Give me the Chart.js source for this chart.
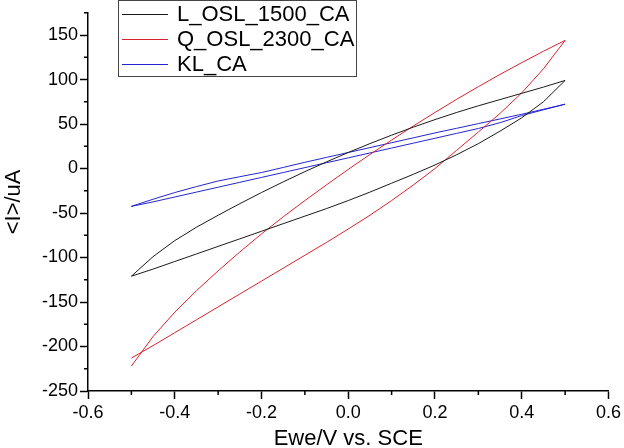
<!DOCTYPE html>
<html>
<head>
<meta charset="utf-8">
<script src="https://cdn.jsdelivr.net/npm/chart.js@4.4.1/dist/chart.umd.min.js"></script>
<style>
  html, body { margin: 0; padding: 0; background: #fff; }
  #wrap { width: 624px; height: 448px; }
</style>
</head>
<body>
<div id="wrap"><canvas id="cv"></canvas></div>
<script>
// potential sweep, V vs SCE (forward scan -0.5 -> 0.5)
const sweep = [-0.5, -0.45, -0.4, -0.35, -0.3, -0.25, -0.2, -0.15, -0.1, -0.05, 0,
  0.05, 0.1, 0.15, 0.2, 0.25, 0.3, 0.35, 0.4, 0.45, 0.5];
const sweepBack = sweep.slice().reverse();

// current, uA
const lForward = [-121, -99, -81, -66, -52.5, -39.5, -27, -15, -3.5, 7.5, 18,
  28, 37.5, 46.5, 55, 63, 70.5, 77.5, 84.5, 91.5, 99];
const lReverse = [99, 75, 57, 42, 28, 15.5, 4, -6.5, -16.5, -26.5, -36,
  -45, -53.5, -62, -70.5, -79, -87.5, -96, -104.5, -113, -121];

const qForward = [-222, -188.8, -161.5, -137.3, -115, -93.8, -73.5, -54.3, -36, -18.3, -1,
  15.8, 32, 47.8, 63, 77.8, 92, 105.8, 119, 131.8, 144];
const qReverse = [144, 112, 85, 62, 41, 20.5, 0, -18.5, -36, -52.5, -68,
  -83, -97.5, -112, -126.5, -141, -155.5, -170, -184.5, -199, -213];

const kForward = [-42.5, -34.5, -27, -20.3, -14, -9.2, -4.5, 1.2, 7, 12.5, 18,
  23.5, 29, 34.5, 40, 45.2, 50.5, 55.7, 61, 66.6, 72.3];
const kReverse = [72.3, 66, 59.5, 51.5, 45, 39.5, 34, 28.5, 23, 17.5, 12,
  6.5, 1, -4.5, -10, -15.5, -21, -26.5, -32, -37.5, -42.5];

const seriesNames = ['L_OSL_1500_CA', 'Q_OSL_2300_CA', 'KL_CA'];
const seriesColors = ['#1a1a1a', '#d8232c', '#2424d4'];

const yMajor = [-250, -200, -150, -100, -50, 0, 50, 100, 150];
const xMajor = [-0.6, -0.4, -0.2, 0, 0.2, 0.4, 0.6];

function loop(fwd, rev) {
  const pts = sweep.map((v, i) => ({ x: v, y: fwd[i] }));
  return pts.concat(sweepBack.map((v, i) => ({ x: v, y: rev[i] })));
}

const isMajorX = (v) => xMajor.some((m) => Math.abs(m - v) < 1e-6);
const isMajorY = (v) => yMajor.some((m) => Math.abs(m - v) < 1e-6);

const FONT = "'Liberation Sans', Arial, sans-serif";

// short minor tick marks, drawn along the axes
const minorTicks = {
  id: 'minorTicks',
  afterDraw(chart) {
    const ctx = chart.ctx;
    const xs = chart.scales.x;
    const ys = chart.scales.y;
    ctx.save();
    ctx.strokeStyle = '#000';
    ctx.lineWidth = 1.5;
    ctx.beginPath();
    xs.ticks.forEach((t) => {
      if (isMajorX(t.value)) return;
      const px = xs.getPixelForValue(t.value);
      ctx.moveTo(px, xs.top);
      ctx.lineTo(px, xs.top + 4);
    });
    ys.ticks.forEach((t) => {
      if (isMajorY(t.value)) return;
      const py = ys.getPixelForValue(t.value);
      ctx.moveTo(ys.right, py);
      ctx.lineTo(ys.right - 4, py);
    });
    ctx.stroke();
    ctx.restore();
  },
};

// boxed legend at the top
const boxLegend = {
  id: 'boxLegend',
  afterDraw(chart) {
    const ctx = chart.ctx;
    ctx.save();
    ctx.strokeStyle = '#444';
    ctx.lineWidth = 1;
    ctx.strokeRect(118.5, 0.5, 238, 76);
    ctx.font = '22px ' + FONT;
    ctx.textBaseline = 'middle';
    chart.data.datasets.forEach((ds, i) => {
      const yy = 14 + i * 25;
      ctx.strokeStyle = ds.borderColor;
      ctx.beginPath();
      ctx.moveTo(122, yy + 0.5);
      ctx.lineTo(168, yy + 0.5);
      ctx.stroke();
      ctx.fillStyle = '#000';
      ctx.fillText(ds.label, 177, yy + 1);
    });
    ctx.restore();
  },
};

const loops = [loop(lForward, lReverse), loop(qForward, qReverse), loop(kForward, kReverse)];

new Chart(document.getElementById('cv'), {
  type: 'scatter',
  data: {
    datasets: loops.map((pts, i) => ({
      label: seriesNames[i],
      data: pts,
      showLine: true,
      borderColor: seriesColors[i],
      backgroundColor: seriesColors[i],
      borderWidth: 1,
      pointRadius: 0,
      tension: 0,
    })),
  },
  options: {
    responsive: true,
    maintainAspectRatio: false,
    animation: false,
    layout: { padding: { left: 0, top: 10, right: 12, bottom: 0 } },
    plugins: {
      legend: { display: false },
      tooltip: { enabled: false },
    },
    scales: {
      x: {
        type: 'linear',
        min: -0.6,
        max: 0.6,
        afterFit: (s) => { s.height = 57; },
        border: { display: true, color: '#000', width: 1.5 },
        grid: {
          drawOnChartArea: false,
          drawTicks: true,
          tickLength: 8,
          tickWidth: 1.5,
          tickColor: (c) => (c.tick && isMajorX(c.tick.value) ? '#000' : 'rgba(0,0,0,0)'),
        },
        ticks: {
          stepSize: 0.1,
          autoSkip: false,
          maxRotation: 0,
          padding: 3,
          color: '#000',
          font: { family: FONT, size: 18 },
          callback: (v) => {
            if (!isMajorX(v)) return '';
            const r = Math.round(v * 10) / 10;
            return r === 0 ? '0.0' : r.toFixed(1);
          },
        },
        title: {
          display: true,
          text: 'Ewe/V vs. SCE',
          color: '#000',
          padding: 0,
          font: { family: FONT, size: 22, lineHeight: 0.8 },
        },
      },
      y: {
        type: 'linear',
        min: -250,
        max: 175,
        afterFit: (s) => { s.width = 88; },
        border: { display: true, color: '#000', width: 1.5 },
        grid: {
          drawOnChartArea: false,
          drawTicks: true,
          tickLength: 8,
          tickWidth: 1.5,
          tickColor: (c) => (c.tick && isMajorY(c.tick.value) ? '#000' : 'rgba(0,0,0,0)'),
        },
        ticks: {
          stepSize: 25,
          autoSkip: false,
          padding: 2,
          color: '#000',
          font: { family: FONT, size: 18 },
          callback: (v) => (isMajorY(v) ? String(v) : ''),
        },
        title: {
          display: true,
          text: '<I>/uA',
          color: '#000',
          padding: { top: 5, bottom: 0 },
          font: { family: FONT, size: 22, lineHeight: 0.8 },
        },
      },
    },
  },
  plugins: [minorTicks, boxLegend],
});
</script>
</body>
</html>
